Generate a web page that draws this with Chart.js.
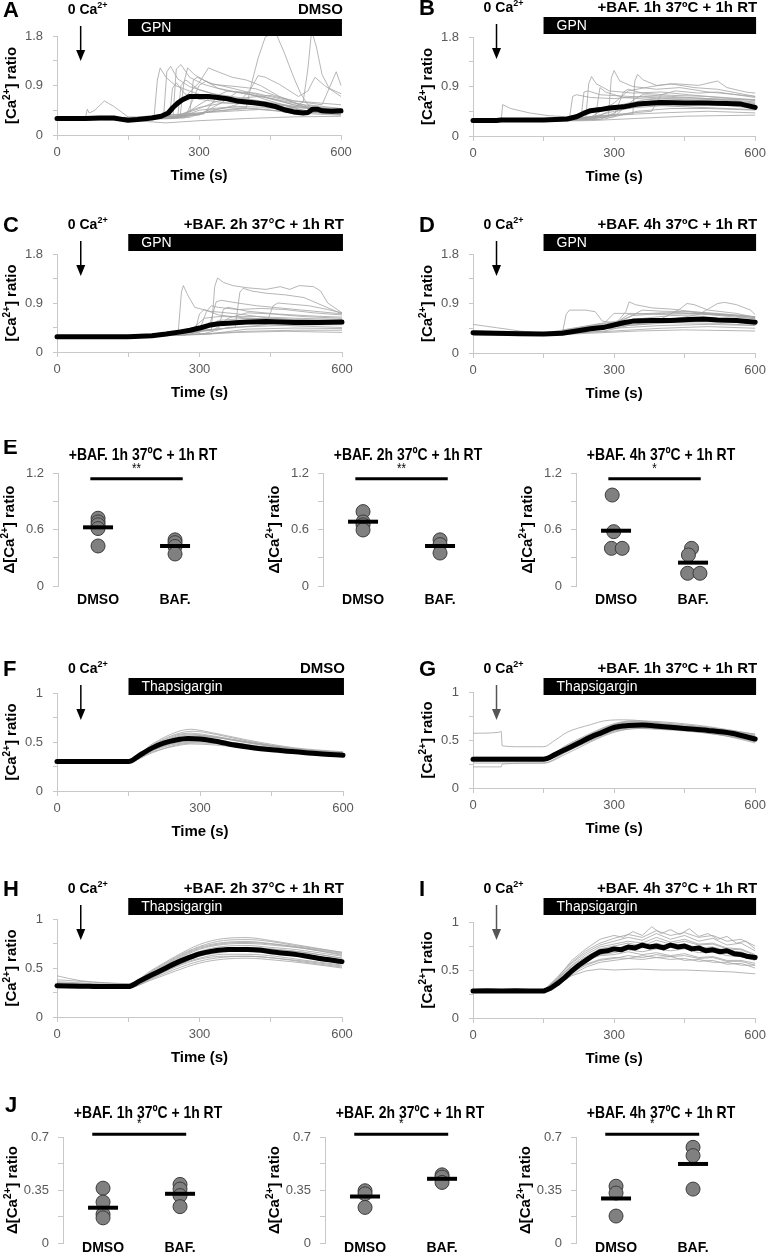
<!DOCTYPE html>
<html><head><meta charset="utf-8">
<script src="https://cdn.jsdelivr.net/npm/chart.js@4.4.1/dist/chart.umd.min.js"></script>
<style>
html,body{margin:0;padding:0;background:#fff;}
#wrap{position:relative;width:771px;height:1258px;overflow:hidden;background:#fff;}
canvas{position:absolute;}
</style></head><body><div id="wrap"></div>
<script>
// ---------------- DATA ----------------
const timeTicks = [0, 150, 300, 450, 600];
const timeLabels = ['0', '', '300', '', '600'];
const gpnYTicks = [0, 0.45, 0.9, 1.35, 1.8];
const gpnYLabels = ['0', '', '0.9', '', '1.8'];
const tgYTicks = [0, 0.25, 0.5, 0.75, 1];
const tgYLabels = ['0', '', '0.5', '', '1'];
const eYTicks = [0, 0.3, 0.6, 0.9, 1.2];
const eYLabels = ['0', '', '0.6', '', '1.2'];
const jYTicks = [0, 0.175, 0.35, 0.525, 0.7];
const jYLabels = ['0', '', '0.35', '', '0.7'];
const groups = ['DMSO', 'BAF.'];
const arrowTime = 50;
const barRange = [150, 602];

// Panel A (GPN, DMSO)
const aMean = [[0,.30],[30,.30],[60,.30],[90,.31],[120,.31],[140,.28],[150,.27],[170,.28],[200,.31],[220,.34],[235,.40],[245,.50],[255,.58],[265,.64],[280,.70],[300,.70],[320,.70],[340,.68],[360,.66],[380,.62],[400,.60],[420,.58],[440,.56],[460,.52],[480,.46],[500,.42],[520,.40],[530,.41],[540,.47],[550,.47],[560,.44],[580,.43],[600,.44]];
const aTraces = [
 [[0,.31],[60,.31],[64,.47],[68,.40],[80,.45],[100,.62],[120,.52],[150,.33],[200,.30],[260,.32],[300,.45],[350,.50],[420,.48],[500,.40],[600,.36]],
 [[0,.30],[150,.29],[205,.31],[212,1.0],[218,1.22],[230,1.05],[250,.90],[280,.80],[320,.68],[380,.60],[450,.52],[520,.42],[600,.40]],
 [[0,.29],[150,.28],[225,.31],[232,1.15],[240,1.25],[255,1.02],[280,.88],[330,.75],[400,.66],[480,.55],[550,.46],[600,.45]],
 [[0,.30],[150,.29],[245,.32],[252,1.20],[262,1.28],[280,1.05],[310,.92],[360,.80],[420,.72],[500,.58],[560,.50],[600,.48]],
 [[0,.31],[150,.30],[260,.33],[268,.95],[276,1.22],[290,1.10],[320,.95],[370,.85],[430,.72],[500,.55],[600,.42]],
 [[0,.30],[150,.29],[220,.32],[260,.60],[300,.95],[320,1.22],[340,1.15],[370,1.05],[400,1.00],[430,.90],[470,.70],[520,.52],[540,.47],[600,.42]],
 [[0,.32],[150,.31],[280,.34],[288,1.00],[296,1.05],[330,.92],[380,.88],[420,.84],[460,.72],[500,.62],[600,.55]],
 [[0,.33],[150,.32],[300,.40],[400,.50],[410,.90],[425,1.40],[440,1.78],[455,1.85],[465,1.80],[480,1.50],[500,1.05],[515,.75],[530,.55],[600,.48]],
 [[0,.30],[150,.30],[300,.40],[400,.45],[500,.50],[520,.60],[530,1.20],[538,1.90],[548,1.60],[560,1.10],[575,.85],[600,.75]],
 [[0,.29],[150,.28],[300,.38],[380,.55],[410,.85],[425,1.08],[440,1.05],[470,.92],[510,.70],[530,.80],[545,1.05],[565,.90],[600,.70]],
 [[0,.30],[150,.29],[240,.30],[300,.48],[340,.62],[400,.68],[450,.72],[500,.62],[560,.55],[590,1.15],[600,.90]],
 [[0,.28],[150,.27],[230,.22],[300,.26],[400,.30],[500,.33],[600,.34]],
 [[0,.29],[150,.28],[250,.30],[320,.42],[400,.48],[500,.42],[600,.38]],
 [[0,.31],[150,.30],[238,.33],[244,.85],[252,.95],[270,.75],[300,.65],[360,.58],[430,.55],[520,.45],[600,.40]],
 [[0,.30],[150,.29],[270,.31],[285,.60],[300,.90],[315,.98],[340,.85],[380,.78],[440,.68],[500,.55],[560,.45],[600,.40]],
 [[0,.30],[150,.29],[300,.36],[350,.60],[380,.78],[400,.76],[450,.62],[520,.45],[600,.38]],
 [[0,.29],[150,.28],[260,.32],[300,.55],[330,.70],[400,.62],[480,.50],[560,.40],[600,.37]],
 [[0,.31],[150,.30],[250,.34],[300,.50],[350,.58],[420,.60],[500,.52],[600,.45]],
 [[0,.30],[150,.29],[255,.33],[262,.90],[272,1.00],[300,.82],[350,.70],[420,.62],[500,.50],[600,.44]],
 [[0,.29],[150,.28],[280,.32],[320,.45],[380,.52],[450,.50],[520,.42],[600,.40]],
 [[0,.30],[150,.29],[310,.38],[340,.72],[360,.80],[420,.76],[480,.64],[540,.50],[600,.46]]
];

// Panel B (GPN, BAF 1h)
const bMean = [[0,.28],[50,.28],[60,.29],[100,.29],[150,.29],[200,.31],[220,.35],[235,.41],[250,.46],[270,.48],[290,.51],[320,.53],[350,.58],[380,.60],[400,.61],[450,.60],[500,.60],[540,.59],[570,.58],[600,.52]];
const bTraces = [
 [[0,.27],[60,.28],[63,.57],[80,.50],[120,.42],[160,.37],[200,.35],[230,.40],[260,.48],[300,.55],[400,.62],[500,.60],[600,.55]],
 [[0,.28],[150,.28],[205,.32],[212,.72],[220,.75],[250,.70],[300,.68],[360,.72],[430,.70],[500,.68],[600,.62]],
 [[0,.28],[150,.28],[240,.33],[246,.95],[252,1.08],[262,.95],[290,.82],[340,.78],[400,.80],[460,.75],[520,.70],[600,.65]],
 [[0,.27],[150,.27],[288,.35],[294,1.05],[300,1.19],[312,1.00],[340,.90],[390,.85],[440,.88],[500,.80],[600,.72]],
 [[0,.28],[150,.28],[340,.40],[344,1.00],[350,1.12],[362,1.02],[390,.92],[430,.95],[480,.92],[520,1.00],[540,.88],[580,.80],[600,.78]],
 [[0,.28],[150,.28],[250,.34],[300,.60],[330,.82],[380,.90],[420,.95],[470,.88],[520,.85],[600,.72]],
 [[0,.27],[150,.27],[260,.32],[270,.88],[282,.80],[320,.70],[400,.65],[500,.62],[600,.58]],
 [[0,.28],[150,.28],[250,.30],[300,.38],[400,.42],[500,.45],[600,.42]],
 [[0,.27],[150,.27],[250,.28],[350,.32],[450,.36],[600,.38]],
 [[0,.28],[150,.28],[230,.30],[300,.45],[360,.55],[450,.58],[550,.55],[600,.50]],
 [[0,.28],[150,.28],[300,.35],[340,.65],[360,.75],[420,.72],[500,.68],[600,.65]],
 [[0,.27],[150,.27],[270,.30],[320,.50],[400,.55],[480,.52],[600,.48]],
 [[0,.28],[150,.28],[230,.34],[236,.80],[245,.82],[270,.75],[330,.72],[420,.68],[520,.66],[600,.60]],
 [[0,.28],[150,.28],[380,.45],[400,.75],[430,.82],[480,.78],[520,.80],[560,.75],[600,.70]],
 [[0,.28],[150,.28],[260,.33],[320,.58],[380,.68],[450,.66],[530,.62],[600,.58]],
 [[0,.27],[150,.27],[280,.31],[350,.45],[420,.50],[500,.50],[600,.47]],
 [[0,.28],[150,.28],[300,.38],[320,.80],[330,.85],[360,.78],[420,.74],[500,.72],[600,.66]]
];

// Panel C (GPN, BAF 2h)
const cMean = [[0,.28],[50,.28],[100,.28],[150,.28],[200,.30],[230,.33],[260,.37],[280,.40],[300,.44],[320,.49],[340,.52],[360,.53],[400,.55],[440,.56],[470,.55],[500,.54],[550,.54],[600,.55]];
const cTraces = [
 [[0,.28],[150,.28],[255,.34],[262,1.10],[266,1.22],[275,1.05],[290,.82],[320,.75],[380,.70],[450,.62],[520,.58],[600,.55]],
 [[0,.28],[150,.28],[325,.40],[332,1.20],[338,1.36],[350,1.28],[370,1.22],[400,1.18],[440,1.15],[470,1.20],[490,1.15],[510,1.22],[540,1.20],[555,1.12],[570,.90],[600,.72]],
 [[0,.28],[150,.28],[375,.45],[385,1.10],[392,1.17],[410,1.12],[440,1.08],[480,1.05],[520,1.00],[560,.85],[600,.70]],
 [[0,.28],[150,.28],[300,.40],[315,.75],[325,.85],[340,.82],[380,.78],[430,.80],[480,.78],[540,.72],[600,.68]],
 [[0,.28],[150,.28],[320,.45],[335,.92],[345,.95],[380,.90],[420,.85],[480,.80],[540,.75],[600,.70]],
 [[0,.28],[150,.28],[440,.50],[455,.85],[465,.90],[490,.88],[530,.85],[570,.78],[600,.72]],
 [[0,.28],[150,.28],[290,.36],[300,.70],[310,.78],[340,.68],[400,.62],[500,.60],[600,.58]],
 [[0,.28],[150,.28],[280,.32],[330,.50],[400,.52],[500,.48],[600,.45]],
 [[0,.28],[150,.28],[300,.33],[400,.38],[500,.40],[600,.40]],
 [[0,.28],[150,.28],[270,.31],[310,.62],[340,.65],[420,.65],[500,.62],[600,.60]],
 [[0,.28],[150,.28],[310,.34],[360,.45],[450,.48],[550,.50],[600,.50]],
 [[0,.28],[150,.28],[330,.40],[360,.62],[400,.72],[450,.70],[520,.65],[600,.62]],
 [[0,.28],[150,.28],[300,.32],[380,.36],[480,.38],[600,.36]],
 [[0,.28],[150,.28],[300,.36],[340,.58],[400,.62],[480,.60],[600,.56]],
 [[0,.28],[150,.28],[340,.42],[350,.78],[360,.82],[400,.75],[460,.70],[540,.66],[600,.64]],
 [[0,.28],[150,.28],[320,.33],[400,.42],[500,.44],[600,.43]]
];

// Panel D (GPN, BAF 4h)
const dMean = [[0,.37],[50,.36],[100,.35],[150,.345],[190,.36],[220,.40],[250,.44],[280,.47],[300,.51],[320,.55],[340,.58],[380,.59],[420,.59],[460,.61],[490,.62],[520,.60],[560,.59],[600,.56]];
const dTraces = [
 [[0,.52],[50,.46],[100,.40],[150,.36],[200,.38],[300,.48],[400,.55],[500,.58],[600,.55]],
 [[0,.32],[100,.32],[150,.33],[190,.36],[198,.70],[205,.78],[240,.78],[260,.75],[275,.58],[300,.55],[400,.60],[500,.62],[600,.58]],
 [[0,.35],[150,.34],[300,.50],[325,.75],[332,.93],[345,.88],[380,.82],[420,.80],[470,.75],[530,.70],[600,.65]],
 [[0,.36],[150,.35],[330,.55],[400,.62],[440,.80],[455,.90],[470,.88],[500,.78],[560,.72],[600,.65]],
 [[0,.37],[150,.35],[400,.58],[480,.70],[520,.90],[535,.92],[560,.88],[590,.78],[600,.70]],
 [[0,.38],[150,.36],[280,.55],[300,.72],[340,.72],[400,.70],[480,.72],[550,.68],[600,.62]],
 [[0,.34],[150,.33],[300,.40],[400,.45],[500,.48],[600,.45]],
 [[0,.40],[150,.37],[300,.45],[400,.50],[500,.52],[600,.50]],
 [[0,.33],[150,.32],[250,.36],[350,.40],[450,.42],[600,.40]],
 [[0,.36],[150,.35],[300,.55],[340,.68],[400,.72],[460,.75],[520,.72],[600,.66]],
 [[0,.35],[150,.35],[320,.60],[360,.78],[400,.76],[460,.75],[500,.70],[600,.62]],
 [[0,.37],[150,.35],[300,.48],[350,.62],[420,.68],[500,.70],[560,.68],[600,.64]],
 [[0,.34],[150,.33],[280,.40],[330,.50],[420,.55],[520,.54],[600,.50]],
 [[0,.39],[150,.36],[300,.52],[330,.70],[400,.73],[470,.72],[540,.70],[600,.66]]
];

// Panel F (Thapsigargin, DMSO)
const fMean = [[0,.30],[50,.30],[100,.30],[150,.30],[175,.37],[200,.44],[225,.49],[250,.52],[275,.535],[300,.53],[330,.51],[360,.48],[400,.45],[450,.42],[500,.40],[550,.38],[600,.365]];
const fTraces = [
 [[0,.31],[150,.31],[200,.48],[250,.60],[280,.63],[320,.60],[400,.52],[500,.44],[600,.40]],
 [[0,.30],[150,.30],[200,.46],[250,.57],[280,.59],[330,.56],[400,.50],[500,.43],[600,.39]],
 [[0,.29],[150,.29],[200,.42],[250,.50],[290,.52],[340,.50],[420,.45],[500,.41],[600,.37]],
 [[0,.30],[150,.30],[200,.40],[250,.46],[280,.48],[330,.47],[420,.43],[500,.39],[600,.36]],
 [[0,.29],[150,.29],[200,.41],[250,.48],[300,.50],[350,.48],[420,.44],[500,.40],[600,.37]],
 [[0,.30],[150,.30],[200,.45],[250,.54],[290,.56],[340,.54],[420,.48],[500,.42],[600,.38]],
 [[0,.31],[150,.31],[200,.44],[250,.53],[270,.545],[320,.52],[400,.47],[500,.41],[600,.375]],
 [[0,.30],[150,.30],[200,.43],[250,.51],[280,.52],[330,.50],[420,.45],[500,.40],[600,.36]],
 [[0,.30],[150,.30],[200,.47],[250,.58],[285,.61],[330,.58],[400,.51],[500,.43],[600,.39]],
 [[0,.31],[150,.31],[200,.45],[250,.55],[280,.57],[330,.55],[400,.49],[500,.42],[600,.385]],
 [[0,.29],[150,.29],[200,.43],[250,.52],[280,.54],[330,.52],[420,.46],[500,.41],[600,.37]],
 [[0,.30],[150,.30],[200,.39],[250,.47],[290,.49],[340,.48],[420,.44],[500,.40],[600,.365]],
 [[0,.30],[150,.30],[200,.44],[250,.56],[275,.58],[320,.56],[400,.50],[500,.43],[600,.395]],
 [[0,.31],[150,.31],[200,.42],[250,.49],[300,.51],[350,.49],[420,.45],[500,.41],[600,.38]]
];

// Panel G (Thapsigargin, BAF 1h)
const gMean = [[0,.30],[50,.30],[100,.30],[150,.30],[175,.35],[200,.41],[225,.47],[250,.53],[275,.58],[300,.63],[330,.65],[360,.655],[400,.64],[450,.62],[500,.60],[550,.57],[600,.51]];
const gTraces = [
 [[0,.57],[55,.58],[60,.59],[62,.44],[100,.43],[150,.43],[175,.50],[200,.58],[250,.66],[280,.70],[320,.71],[360,.70],[400,.67],[450,.64],[500,.61],[550,.58],[600,.54]],
 [[0,.26],[150,.26],[200,.36],[250,.48],[300,.58],[350,.62],[400,.61],[500,.57],[600,.49]],
 [[0,.22],[60,.22],[62,.25],[150,.26],[200,.38],[250,.50],[300,.60],[350,.63],[450,.60],[600,.50]],
 [[0,.31],[150,.31],[200,.43],[250,.55],[300,.65],[340,.68],[400,.66],[500,.61],[600,.54]],
 [[0,.30],[150,.30],[200,.40],[250,.51],[300,.61],[350,.64],[420,.63],[500,.59],[600,.50]],
 [[0,.32],[150,.32],[200,.44],[250,.56],[300,.66],[330,.69],[400,.67],[500,.63],[600,.56]],
 [[0,.29],[150,.29],[200,.39],[250,.49],[300,.59],[360,.62],[450,.60],[520,.56],[600,.47]],
 [[0,.30],[150,.30],[200,.42],[250,.54],[300,.64],[350,.67],[420,.64],[500,.60],[600,.52]],
 [[0,.31],[150,.31],[200,.41],[250,.52],[300,.62],[350,.66],[420,.64],[500,.60],[600,.53]],
 [[0,.30],[150,.30],[200,.43],[250,.56],[300,.66],[340,.69],[400,.68],[500,.63],[600,.55]],
 [[0,.29],[150,.29],[200,.38],[250,.50],[300,.60],[350,.63],[430,.61],[520,.57],[600,.48]],
 [[0,.31],[150,.31],[200,.42],[250,.53],[300,.63],[350,.66],[420,.65],[500,.61],[600,.52]],
 [[0,.30],[150,.30],[200,.40],[250,.52],[300,.62],[350,.65],[420,.63],[500,.59],[600,.51]],
 [[0,.32],[150,.32],[200,.45],[250,.57],[300,.67],[340,.70],[400,.69],[500,.64],[600,.56]]
];

// Panel H (Thapsigargin, BAF 2h)
const hMean = [[0,.32],[50,.315],[100,.31],[150,.31],[175,.37],[200,.43],[225,.49],[250,.55],[275,.60],[300,.645],[330,.675],[360,.69],[400,.69],[430,.68],[460,.66],[500,.64],[550,.60],[600,.565]];
const hTraces = [
 [[0,.42],[50,.37],[100,.35],[150,.34],[200,.48],[250,.62],[300,.74],[350,.80],[400,.81],[450,.78],[500,.74],[550,.70],[600,.66]],
 [[0,.36],[150,.33],[200,.46],[250,.60],[300,.71],[350,.76],[400,.77],[450,.75],[500,.72],[600,.65]],
 [[0,.34],[150,.32],[200,.44],[250,.57],[300,.67],[350,.72],[400,.73],[450,.71],[500,.69],[600,.62]],
 [[0,.31],[150,.30],[200,.40],[250,.52],[300,.60],[350,.64],[400,.64],[460,.62],[520,.58],[600,.53]],
 [[0,.30],[150,.30],[200,.38],[250,.47],[300,.55],[350,.59],[400,.60],[460,.58],[520,.55],[600,.50]],
 [[0,.32],[150,.31],[200,.42],[250,.54],[300,.63],[350,.68],[400,.69],[460,.67],[520,.64],[600,.58]],
 [[0,.33],[150,.31],[200,.45],[250,.58],[300,.69],[350,.74],[400,.75],[460,.73],[520,.70],[600,.63]],
 [[0,.30],[150,.30],[200,.41],[250,.52],[300,.62],[350,.66],[400,.68],[460,.66],[520,.62],[600,.55]],
 [[0,.38],[150,.34],[200,.47],[250,.61],[300,.72],[350,.78],[400,.79],[450,.77],[500,.73],[600,.66]],
 [[0,.33],[150,.31],[200,.43],[250,.56],[300,.66],[350,.70],[400,.71],[460,.69],[520,.66],[600,.60]],
 [[0,.31],[150,.30],[200,.40],[250,.51],[300,.59],[350,.62],[400,.62],[460,.60],[520,.57],[600,.52]],
 [[0,.32],[150,.31],[200,.43],[250,.55],[300,.65],[350,.70],[400,.71],[460,.69],[520,.66],[600,.60]],
 [[0,.35],[150,.32],[200,.45],[250,.59],[300,.70],[350,.75],[400,.76],[460,.74],[520,.70],[600,.64]],
 [[0,.30],[150,.30],[200,.39],[250,.49],[300,.57],[350,.61],[400,.62],[460,.60],[520,.56],[600,.51]]
];

// Panel I (Thapsigargin, BAF 4h)
const iMean = [[0,.28],[30,.285],[60,.28],[90,.285],[120,.28],[150,.28],[165,.31],[180,.36],[195,.42],[210,.49],[225,.55],[240,.60],[255,.65],[270,.69],[285,.70],[300,.72],[315,.71],[330,.74],[345,.73],[360,.76],[375,.74],[390,.75],[405,.73],[420,.76],[435,.74],[450,.75],[465,.72],[480,.73],[495,.70],[510,.71],[525,.69],[540,.70],[555,.67],[570,.66],[585,.64],[600,.63]];
const iTraces = [
 [[0,.29],[150,.29],[180,.42],[210,.60],[240,.72],[270,.82],[300,.86],[320,.84],[340,.90],[360,.86],[380,.95],[400,.88],[420,.92],[440,.87],[460,.93],[480,.85],[500,.88],[520,.82],[540,.85],[560,.78],[580,.80],[600,.72]],
 [[0,.28],[150,.28],[180,.36],[210,.44],[240,.49],[270,.51],[300,.50],[350,.51],[400,.50],[450,.50],[500,.49],[550,.48],[600,.46]],
 [[0,.27],[150,.27],[180,.38],[210,.52],[240,.60],[270,.65],[300,.66],[330,.69],[360,.66],[390,.68],[420,.65],[450,.67],[480,.63],[510,.64],[540,.60],[570,.60],[600,.57]],
 [[0,.29],[150,.29],[180,.40],[210,.55],[240,.66],[270,.74],[300,.77],[330,.80],[360,.78],[390,.84],[420,.79],[450,.82],[480,.77],[510,.78],[540,.73],[570,.72],[600,.66]],
 [[0,.28],[150,.28],[180,.37],[210,.48],[240,.56],[270,.61],[300,.63],[330,.62],[360,.65],[390,.63],[420,.64],[450,.60],[480,.61],[510,.58],[540,.58],[570,.55],[600,.55]],
 [[0,.28],[150,.28],[180,.41],[210,.57],[240,.68],[270,.76],[300,.80],[330,.84],[360,.81],[390,.88],[420,.82],[450,.86],[480,.80],[510,.83],[540,.76],[570,.78],[600,.70]],
 [[0,.27],[150,.27],[180,.34],[210,.45],[240,.53],[270,.58],[300,.60],[330,.62],[360,.61],[390,.63],[420,.61],[450,.62],[480,.59],[510,.60],[540,.56],[570,.57],[600,.52]],
 [[0,.29],[150,.29],[180,.39],[210,.52],[240,.63],[270,.70],[300,.72],[330,.76],[360,.73],[390,.78],[420,.74],[450,.77],[480,.73],[510,.74],[540,.70],[570,.69],[600,.63]],
 [[0,.28],[150,.28],[180,.43],[210,.58],[240,.70],[270,.78],[300,.83],[330,.87],[360,.84],[390,.91],[420,.86],[450,.89],[480,.84],[510,.86],[540,.80],[570,.82],[600,.75]],
 [[0,.28],[150,.28],[180,.40],[210,.54],[240,.64],[270,.72],[300,.75],[330,.78],[360,.75],[390,.81],[420,.77],[450,.80],[480,.76],[510,.77],[540,.72],[570,.71],[600,.65]],
 [[0,.29],[150,.29],[180,.38],[210,.50],[240,.59],[270,.66],[300,.68],[330,.71],[360,.69],[390,.72],[420,.70],[450,.72],[480,.68],[510,.69],[540,.65],[570,.64],[600,.60]],
 [[0,.27],[150,.27],[180,.36],[210,.47],[240,.55],[270,.60],[300,.62],[330,.65],[360,.63],[390,.66],[420,.64],[450,.65],[480,.62],[510,.63],[540,.59],[570,.59],[600,.55]]
];

// Panel E (GPN delta)
const e1Dmso = [0.72, 0.68, 0.65, 0.61, 0.425];
const e1Baf = [0.49, 0.46, 0.42, 0.34];
const e1Means = [0.623, 0.425];
const e2Dmso = [0.79, 0.68, 0.65, 0.595];
const e2Baf = [0.49, 0.44, 0.35];
const e2Means = [0.683, 0.425];
const e3Dmso = [0.966, 0.577, 0.40, 0.40];
const e3Baf = [0.40, 0.33, 0.135, 0.135];
const e3Means = [0.587, 0.248];
// Panel J (Thapsigargin delta)
const j1Dmso = [0.362, 0.27, 0.19, 0.166];
const j1Baf = [0.387, 0.356, 0.313, 0.24];
const j1Means = [0.233, 0.325];
const j2Dmso = [0.345, 0.325, 0.235];
const j2Baf = [0.45, 0.435, 0.40];
const j2Means = [0.307, 0.424];
const j3Dmso = [0.375, 0.33, 0.178];
const j3Baf = [0.632, 0.577, 0.356];
const j3Means = [0.294, 0.522];

// ---------------- RENDERING ----------------
const wrap = document.getElementById('wrap');
const F_BOLD = '"Liberation Sans", Arial, sans-serif';
const F_TICK = '"Liberation Sans", Arial, sans-serif';
const AXIS_C = '#c8c8c8';
const TICK_C = '#595959';

function hasFont(name) {
  const c = document.createElement('canvas').getContext('2d');
  const s = 'DMSO BAF. 0123456789 ratio';
  c.font = '40px monospace'; const a = c.measureText(s).width;
  c.font = '40px "' + name + '", monospace'; const b = c.measureText(s).width;
  return Math.abs(a - b) > 0.5;
}
const NARROW_OK = hasFont('Liberation Sans Narrow');
const F_NARROW = NARROW_OK ? '"Liberation Sans Narrow", "Liberation Sans", sans-serif' : F_BOLD;
const NSX = NARROW_OK ? 1 : 0.82;

function addCanvas(l, t, w, h) {
  const c = document.createElement('canvas');
  c.width = w; c.height = h;
  c.style.left = l + 'px'; c.style.top = t + 'px';
  c.style.width = w + 'px'; c.style.height = h + 'px';
  wrap.appendChild(c);
  return c;
}

function richText(ctx, parts, x, y, o) {
  const sx = o.sx || 1;
  const segs = parts.map(p => typeof p === 'string' ? {t: p, sup: false} : p);
  const fontFor = s => (o.bold ? 'bold ' : '') + (s.sup ? Math.round(o.size * 0.65) : o.size) + 'px ' + o.family;
  let w = 0;
  segs.forEach(s => { ctx.font = fontFor(s); s.w = ctx.measureText(s.t).width; w += s.w; });
  ctx.save();
  ctx.translate(x, y); ctx.scale(sx, 1);
  let cx = o.align === 'center' ? -w / 2 : (o.align === 'right' ? -w : 0);
  ctx.fillStyle = o.color || '#000';
  ctx.textBaseline = 'middle'; ctx.textAlign = 'left';
  segs.forEach(s => { ctx.font = fontFor(s); ctx.fillText(s.t, cx, s.sup ? -o.size * 0.33 : 0); cx += s.w; });
  ctx.restore();
}

function traceOverlay(p) {
  return {
    id: 'traceOverlay',
    afterDraw(chart) {
      const ctx = chart.ctx, xs = chart.scales.x, ca = chart.chartArea;
      const bt = p.barTop - p.top;
      ctx.save();
      richText(ctx, [p.letter], ca.left - 54, bt - 8, {size: 22, bold: true, family: F_BOLD});
      const ax = xs.getPixelForValue(arrowTime);
      richText(ctx, ['0 Ca', {t: '2+', sup: true}], ax + 7, bt - 9, {size: 14, bold: true, family: F_BOLD, align: 'center'});
      richText(ctx, [p.right], ca.right + 2, bt - 9, {size: 15, bold: true, family: F_BOLD, align: 'right'});
      const b0 = xs.getPixelForValue(barRange[0]), b1 = xs.getPixelForValue(barRange[1]);
      ctx.fillStyle = '#000';
      ctx.fillRect(b0, bt, b1 - b0, 17);
      richText(ctx, [p.barText], b0 + 13, bt + 9, {size: 14, family: F_BOLD, color: '#fff'});
      const y0 = bt + 7, y1 = bt + 42;
      ctx.strokeStyle = p.arrowColor; ctx.fillStyle = p.arrowColor; ctx.lineWidth = 1.5;
      ctx.beginPath(); ctx.moveTo(ax, y0); ctx.lineTo(ax, y1 - 8); ctx.stroke();
      ctx.beginPath(); ctx.moveTo(ax - 4.5, y1 - 11); ctx.lineTo(ax + 4.5, y1 - 11); ctx.lineTo(ax, y1); ctx.closePath(); ctx.fill();
      ctx.translate(ca.left - 45, (ca.top + ca.bottom) / 2);
      ctx.rotate(-Math.PI / 2);
      richText(ctx, ['[Ca', {t: '2+', sup: true}, '] ratio'], 0, 0, {size: 15, bold: true, family: F_BOLD, align: 'center'});
      ctx.restore();
    }
  };
}

function tracePanel(p) {
  const cv = addCanvas(p.left, p.top, p.width, p.height);
  const ds = p.traces.map(tr => ({
    data: tr.map(([x, y]) => ({x, y})), showLine: true, borderColor: '#a3a3a3', borderWidth: 0.8,
    pointRadius: 0, pointHoverRadius: 0, clip: false, order: 2,
    tension: p.smooth ? 0.4 : 0, cubicInterpolationMode: p.smooth ? 'monotone' : 'default'
  }));
  ds.push({
    data: p.mean.map(([x, y]) => ({x, y})), showLine: true, borderColor: '#000', borderWidth: 5,
    pointRadius: 0, pointHoverRadius: 0, clip: false, order: 1, borderJoinStyle: 'round', borderCapStyle: 'round',
    tension: p.smooth ? 0.4 : 0, cubicInterpolationMode: p.smooth ? 'monotone' : 'default'
  });
  new Chart(cv, {
    type: 'scatter',
    data: {datasets: ds},
    options: {
      responsive: false, animation: false, devicePixelRatio: 1, events: [],
      layout: {padding: {left: 0, right: p.left + p.width - p.areaRight, top: p.areaTop - p.top, bottom: 0}},
      plugins: {legend: {display: false}, tooltip: {enabled: false}},
      scales: {
        x: {
          type: 'linear', min: 0, max: 600,
          afterBuildTicks: s => { s.ticks = timeTicks.map(v => ({value: v})); },
          afterFit: s => { s.height = p.top + p.height - p.areaBottom; },
          ticks: {autoSkip: false, maxRotation: 0, padding: 5, color: TICK_C, font: {family: F_TICK, size: 13}, callback: (v, i) => timeLabels[i]},
          grid: {display: true, drawOnChartArea: false, drawTicks: true, tickLength: 5, color: AXIS_C},
          border: {display: true, color: AXIS_C, width: 1},
          title: {display: true, text: 'Time (s)', color: '#000', font: {family: F_BOLD, size: 15, weight: 'bold'}, padding: {top: 0, bottom: 5}}
        },
        y: {
          type: 'linear', min: 0, max: p.yTicks[p.yTicks.length - 1],
          afterBuildTicks: s => { s.ticks = p.yTicks.map(v => ({value: v})); },
          afterFit: s => { s.width = p.areaLeft - p.left; },
          ticks: {autoSkip: false, padding: 10, color: TICK_C, font: {family: F_TICK, size: 13}, callback: (v, i) => p.yLabels[i]},
          grid: {display: true, drawOnChartArea: false, drawTicks: true, tickLength: 4, color: AXIS_C},
          border: {display: true, color: AXIS_C, width: 1}
        }
      }
    },
    plugins: [traceOverlay(p)]
  });
}

const XMIN = 0.48, XMAX = 0.48 + 160 / 77;
const GROUP_FONT = {family: F_NARROW, size: NARROW_OK ? 17 : 14, weight: 'bold'};
function dotOverlay(p) {
  return {
    id: 'dotOverlay',
    afterDraw(chart) {
      const ctx = chart.ctx, ca = chart.chartArea, xs = chart.scales.x, ys = chart.scales.y;
      ctx.save();
      if (p.letter) richText(ctx, [p.letter], p.letterX - p.left, p.letterY - p.top, {size: 22, bold: true, family: F_BOLD});
      richText(ctx, [p.title], ca.left + 85, p.titleY - p.top, {size: 17, bold: true, family: F_NARROW, align: 'center', sx: NSX});
      const mid = (xs.getPixelForValue(p.sig[0]) + xs.getPixelForValue(p.sig[1])) / 2;
      richText(ctx, [p.stars], mid, ys.getPixelForValue(p.sigY) - 10, {size: 14, family: F_NARROW, align: 'center', sx: NSX});
      if (p.labelY) {
        groups.forEach((g, i) => richText(ctx, [g], xs.getPixelForValue(i + 1), p.labelY - p.top,
          {size: GROUP_FONT.size, bold: true, family: F_NARROW, align: 'center'}));
      }
      ctx.translate(ca.left - p.yTitleOff, (ca.top + ca.bottom) / 2);
      ctx.rotate(-Math.PI / 2);
      richText(ctx, ['\u0394[Ca', {t: '2+', sup: true}, '] ratio'], 0, 0, {size: 15, bold: true, family: F_BOLD, align: 'center'});
      ctx.restore();
    }
  };
}

function dotPanel(p) {
  const cv = addCanvas(p.left, p.top, p.width, p.height);
  const dotStyle = {pointRadius: 7, pointHoverRadius: 7, backgroundColor: '#808080', borderColor: '#3c3c3c', borderWidth: 1, showLine: false, clip: false, order: 3};
  const ds = [
    Object.assign({data: p.dmso.map((v, i) => ({x: 1 + (p.offD ? p.offD[i] : 0), y: v}))}, dotStyle),
    Object.assign({data: p.baf.map((v, i) => ({x: 2 + (p.offB ? p.offB[i] : 0), y: v}))}, dotStyle),
    {data: p.means.map((v, i) => ({x: i + 1, y: v})), pointStyle: 'line', pointRadius: 15, pointHoverRadius: 15,
     borderColor: '#000', borderWidth: 4, showLine: false, clip: false, order: 1},
    {data: [{x: p.sig[0], y: p.sigY}, {x: p.sig[1], y: p.sigY}], showLine: true, borderColor: '#000', borderWidth: 3,
     pointRadius: 0, pointHoverRadius: 0, clip: false, order: 2}
  ];
  new Chart(cv, {
    type: 'scatter',
    data: {datasets: ds},
    options: {
      responsive: false, animation: false, devicePixelRatio: 1, events: [],
      layout: {padding: {left: 0, right: p.left + p.width - (p.axisX + 160), top: p.areaTop - p.top, bottom: 0}},
      plugins: {legend: {display: false}, tooltip: {enabled: false}},
      scales: {
        x: {
          type: 'linear', min: XMIN, max: XMAX,
          afterBuildTicks: s => { s.ticks = [1, 2].map(v => ({value: v})); },
          afterFit: s => { s.height = p.top + p.height - p.areaBottom; },
          ticks: {display: !p.labelY, autoSkip: false, maxRotation: 0, padding: p.xPad, color: '#000',
                  font: GROUP_FONT, callback: (v, i) => groups[i]},
          grid: {display: false, drawTicks: false},
          border: {display: false}
        },
        y: {
          type: 'linear', min: 0, max: p.yTicks[p.yTicks.length - 1],
          afterBuildTicks: s => { s.ticks = p.yTicks.map(v => ({value: v})); },
          afterFit: s => { s.width = p.axisX - p.left; },
          ticks: {autoSkip: false, padding: 9, color: TICK_C, font: {family: F_NARROW, size: NARROW_OK ? 15 : 13}, callback: (v, i) => p.yLabels[i]},
          grid: {display: true, drawOnChartArea: false, drawTicks: true, tickLength: 5, color: AXIS_C},
          border: {display: true, color: AXIS_C, width: 1}
        }
      }
    },
    plugins: [dotOverlay(p)]
  });
}

const GPN = 'GPN', TG = 'Thapsigargin';
const T1 = '+BAF. 1h 37\u00baC + 1h RT', T2 = '+BAF. 2h 37\u00baC + 1h RT', T4 = '+BAF. 4h 37\u00baC + 1h RT';
const T2d = '+BAF. 2h 37\u00b0C + 1h RT', T4d = '+BAF. 4h 37\u00b0C + 1h RT';

tracePanel({letter: 'A', right: 'DMSO', barText: GPN, left: 0, top: 0, width: 385, height: 190, areaLeft: 57, areaRight: 341, areaTop: 36, areaBottom: 135, barTop: 19, yTicks: gpnYTicks, yLabels: gpnYLabels, traces: aTraces, mean: aMean, arrowColor: '#000'});
tracePanel({letter: 'B', right: T1, barText: GPN, left: 385, top: 0, width: 386, height: 191, areaLeft: 473, areaRight: 758, areaTop: 37, areaBottom: 136, barTop: 17, yTicks: gpnYTicks, yLabels: gpnYLabels, traces: bTraces, mean: bMean, arrowColor: '#000'});
tracePanel({letter: 'C', right: T2d, barText: GPN, left: 0, top: 200, width: 385, height: 207, areaLeft: 57, areaRight: 342, areaTop: 254, areaBottom: 352, barTop: 234, yTicks: gpnYTicks, yLabels: gpnYLabels, traces: cTraces, mean: cMean, arrowColor: '#000'});
tracePanel({letter: 'D', right: T4, barText: GPN, left: 385, top: 200, width: 386, height: 208, areaLeft: 473, areaRight: 758, areaTop: 254, areaBottom: 353, barTop: 234, yTicks: gpnYTicks, yLabels: gpnYLabels, traces: dTraces, mean: dMean, arrowColor: '#000'});
tracePanel({letter: 'F', right: 'DMSO', barText: TG, left: 0, top: 640, width: 385, height: 206, areaLeft: 57, areaRight: 343, areaTop: 693, areaBottom: 791, barTop: 678, yTicks: tgYTicks, yLabels: tgYLabels, traces: fTraces, mean: fMean, smooth: true, arrowColor: '#000'});
tracePanel({letter: 'G', right: T1, barText: TG, left: 385, top: 640, width: 386, height: 203, areaLeft: 473, areaRight: 758, areaTop: 692, areaBottom: 788, barTop: 678, yTicks: tgYTicks, yLabels: tgYLabels, traces: gTraces, mean: gMean, smooth: true, arrowColor: '#555'});
tracePanel({letter: 'H', right: T2d, barText: TG, left: 0, top: 860, width: 385, height: 212, areaLeft: 57, areaRight: 342, areaTop: 919, areaBottom: 1017, barTop: 898, yTicks: tgYTicks, yLabels: tgYLabels, traces: hTraces, mean: hMean, smooth: true, arrowColor: '#000'});
tracePanel({letter: 'I', right: T4d, barText: TG, left: 385, top: 860, width: 386, height: 213, areaLeft: 473, areaRight: 758, areaTop: 922, areaBottom: 1018, barTop: 898, yTicks: tgYTicks, yLabels: tgYLabels, traces: iTraces, mean: iMean, smooth: false, arrowColor: '#555'});

const eCommon = {top: 440, width: 257, height: 170, areaTop: 473, areaBottom: 586, yTicks: eYTicks, yLabels: eYLabels, sig: [0.9, 2.1], sigY: 1.14, titleY: 455, xPad: 6, yTitleOff: 48};
dotPanel(Object.assign({}, eCommon, {left: 0, axisX: 58, letter: 'E', letterX: 3, letterY: 448, title: T1, dmso: e1Dmso, baf: e1Baf, means: e1Means, stars: '**'}));
dotPanel(Object.assign({}, eCommon, {left: 257, axisX: 323, title: T2, dmso: e2Dmso, baf: e2Baf, means: e2Means, stars: '**'}));
dotPanel(Object.assign({}, eCommon, {left: 514, axisX: 576, title: T4, dmso: e3Dmso, baf: e3Baf, means: e3Means, stars: '*', offD: [-0.05, -0.03, -0.06, 0.08], offB: [-0.02, -0.06, -0.07, 0.09]}));

const jCommon = {top: 1090, width: 257, height: 172, areaTop: 1137, areaBottom: 1251, yTicks: jYTicks, yLabels: jYLabels, sig: [0.86, 2.08], sigY: 0.718, titleY: 1113, xPad: 0, yTitleOff: 50, labelY: 1248};
dotPanel(Object.assign({}, jCommon, {left: 0, axisX: 63, letter: 'J', letterX: 5, letterY: 1106, title: T1, dmso: j1Dmso, baf: j1Baf, means: j1Means, stars: '*'}));
dotPanel(Object.assign({}, jCommon, {left: 257, axisX: 325, title: T2, dmso: j2Dmso, baf: j2Baf, means: j2Means, stars: '*'}));
dotPanel(Object.assign({}, jCommon, {left: 514, axisX: 576, title: T4, dmso: j3Dmso, baf: j3Baf, means: j3Means, stars: '*'}));
</script></body></html>
